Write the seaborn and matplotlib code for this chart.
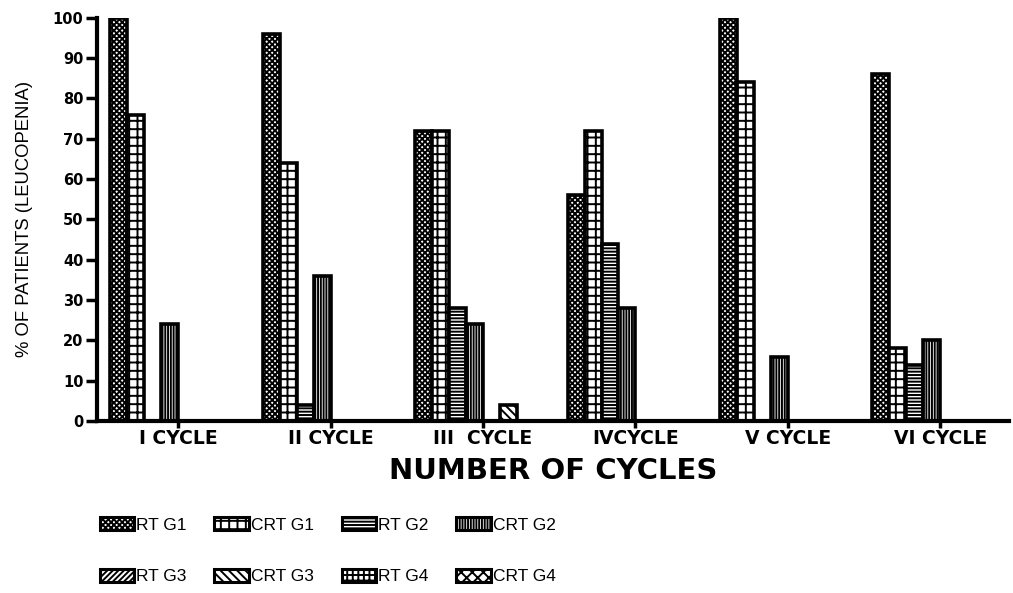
import matplotlib
matplotlib.use("Agg")
import matplotlib.pyplot as plt
import seaborn as sns
import pandas as pd
from matplotlib.patches import Patch

# Data
cycles = ["I CYCLE", "II CYCLE", "III  CYCLE", "IVCYCLE", "V CYCLE", "VI CYCLE"]
groups = ["RT G1", "CRT G1", "RT G2", "CRT G2", "RT G3", "CRT G3", "RT G4", "CRT G4"]
rt_g1 = [100, 96, 72, 56, 100, 86]
crt_g1 = [76, 64, 72, 72, 84, 18]
rt_g2 = [0, 4, 28, 44, 0, 14]
crt_g2 = [24, 36, 24, 28, 16, 20]
rt_g3 = [0, 0, 0, 0, 0, 0]
crt_g3 = [0, 0, 4, 0, 0, 0]
rt_g4 = [0, 0, 0, 0, 0, 0]
crt_g4 = [0, 0, 0, 0, 0, 0]
hatches = ["xxxxxx", "++", "-----", "||||||", "//////", "\\\\\\\\", "+++", "xxx"]

series = [rt_g1, crt_g1, rt_g2, crt_g2, rt_g3, crt_g3, rt_g4, crt_g4]
rows = []
for g, vals in zip(groups, series):
    for c, v in zip(cycles, vals):
        rows.append({"cycle": c, "group": g, "value": v})
df = pd.DataFrame(rows)

sns.set_style("white")
plt.rcParams["font.family"] = ["Liberation Sans", "DejaVu Sans"]
plt.rcParams["hatch.linewidth"] = 1.4
for k in ["text.color", "axes.labelcolor", "xtick.color", "ytick.color"]:
    plt.rcParams[k] = "black"

fig = plt.figure(figsize=(10.13, 5.93), dpi=100)
ax = fig.add_axes([0.096, 0.29, 0.9, 0.68])

sns.barplot(data=df, x="cycle", y="value", hue="group", order=cycles,
            hue_order=groups, width=0.89, palette=["white"] * 8,
            edgecolor="black", linewidth=2.6, ax=ax, legend=False)

for cont, h in zip(ax.containers, hatches):
    for p in cont:
        p.set_hatch(h)

ax.set_ylim(0, 100)
ax.set_xlim(-0.53, 5.45)
ax.set_yticks(range(0, 101, 10))
ax.tick_params(axis="y", length=8, width=2.5, direction="out", left=True, pad=2)
ax.tick_params(axis="x", length=5, width=2.5, direction="out", bottom=True, pad=1)
for lab in ax.get_yticklabels():
    lab.set_fontfamily("DejaVu Sans")
    lab.set_fontweight("bold")
    lab.set_fontsize(10.5)
for lab in ax.get_xticklabels():
    lab.set_fontfamily("DejaVu Sans")
    lab.set_fontweight("bold")
    lab.set_fontsize(13.5)

sns.despine(ax=ax)
for s in ["left", "bottom"]:
    ax.spines[s].set_linewidth(3)
    ax.spines[s].set_color("black")

ax.set_ylabel("% OF PATIENTS (LEUCOPENIA)", fontsize=13.3, labelpad=14)
ax.set_xlabel("NUMBER OF CYCLES", fontsize=21, fontweight="bold",
              family="DejaVu Sans", labelpad=6)

# legend is filled column by column, so order handles to read row-wise
order = [0, 4, 1, 5, 2, 6, 3, 7]
handles = [Patch(facecolor="white", edgecolor="black", hatch=hatches[i], linewidth=2.2)
           for i in order]
labels = [groups[i] for i in order]
fig.legend(handles, labels, loc="lower left", bbox_to_anchor=(0.083, -0.012),
           ncol=4, frameon=False, fontsize=12.5, handlelength=2.0, handleheight=0.75,
           handletextpad=0.1, columnspacing=1.6, labelspacing=2.1)

fig.savefig("out.png", dpi=100)
